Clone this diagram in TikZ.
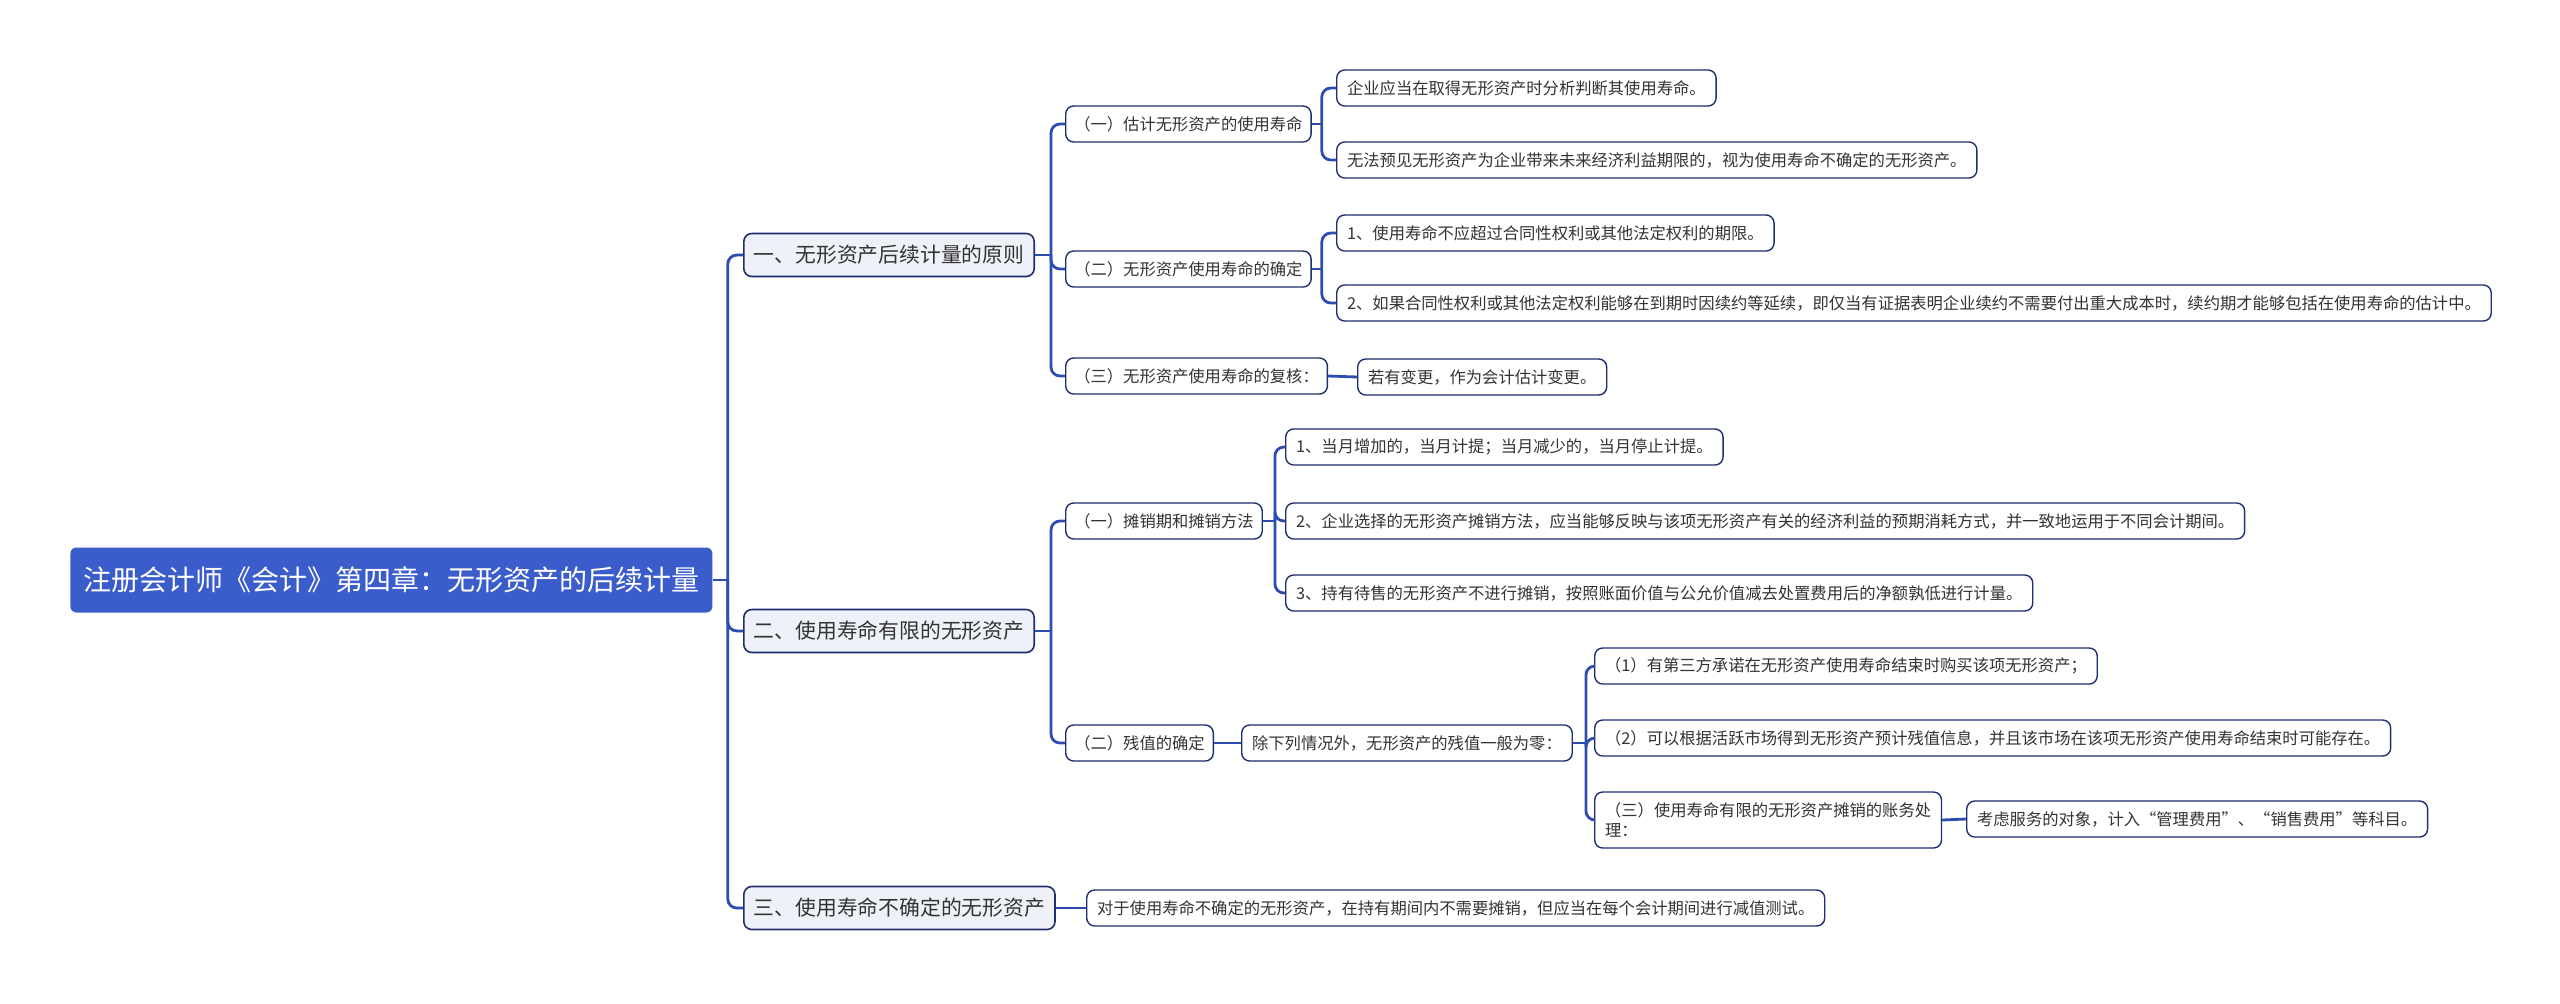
\documentclass[tikz,border=0pt]{standalone}
\usepackage{fontspec}
\setmainfont{Noto Sans CJK SC}
\usetikzlibrary{positioning}

\definecolor{rootblue}{HTML}{3B5CCB}
\definecolor{linkblue}{HTML}{2E4DB0}
\definecolor{boxline}{HTML}{1F2E6E}
\definecolor{topicfill}{HTML}{EEF1F7}
\definecolor{txtgray}{HTML}{333333}

\tikzset{
  rootbox/.style={fill=rootblue, text=white, rounded corners=3pt, anchor=west,
    minimum height=32.5pt, inner xsep=6.5pt, font=\fontsize{14}{16}\selectfont},
  topicbox/.style={draw=boxline, fill=topicfill, line width=0.8pt, rounded corners=4pt,
    anchor=west, minimum height=21.5pt, inner xsep=5pt, text=txtgray,
    font=\fontsize{10.4}{12}\selectfont},
  subbox/.style={draw=boxline, fill=white, line width=0.7pt, rounded corners=4pt,
    anchor=west, minimum height=18pt, inner xsep=4.3pt, text=txtgray,
    font=\fontsize{8.15}{10}\selectfont},
  leafbox/.style={subbox, inner xsep=5.2pt},
  link/.style={draw=linkblue, line width=1.4pt, rounded corners=4.5pt},
}

\begin{document}
\begin{tikzpicture}[x=0.5pt,y=-0.5pt]
\useasboundingbox (0,0) rectangle (2560,1003);

% root and main topics
\node[rootbox] (root) at (70,580) {注册会计师《会计》第四章：无形资产的后续计量};
\node[topicbox] (t1) at (743,255) {一、无形资产后续计量的原则};
\node[topicbox] (t2) at (743,631) {二、使用寿命有限的无形资产};
\node[topicbox] (t3) at (743,908) {三、使用寿命不确定的无形资产};

% branch one
\node[subbox] (s11) at (1065,124) {（一）估计无形资产的使用寿命};
\node[subbox] (s12) at (1065,269) {（二）无形资产使用寿命的确定};
\node[subbox] (s13) at (1065,376) {（三）无形资产使用寿命的复核：};
\node[leafbox] (l111) at (1336,88) {企业应当在取得无形资产时分析判断其使用寿命。};
\node[leafbox] (l112) at (1336,160) {无法预见无形资产为企业带来未来经济利益期限的，视为使用寿命不确定的无形资产。};
\node[leafbox] (l121) at (1336,233) {1、使用寿命不应超过合同性权利或其他法定权利的期限。};
\node[leafbox] (l122) at (1336,303) {2、如果合同性权利或其他法定权利能够在到期时因续约等延续，即仅当有证据表明企业续约不需要付出重大成本时，续约期才能够包括在使用寿命的估计中。};
\node[leafbox] (l131) at (1357,377) {若有变更，作为会计估计变更。};

% branch two
\node[subbox] (s21) at (1065,521) {（一）摊销期和摊销方法};
\node[subbox] (s22) at (1065,743) {（二）残值的确定};
\node[leafbox] (l211) at (1285,447) {1、当月增加的，当月计提；当月减少的，当月停止计提。};
\node[leafbox] (l212) at (1285,521) {2、企业选择的无形资产摊销方法，应当能够反映与该项无形资产有关的经济利益的预期消耗方式，并一致地运用于不同会计期间。};
\node[leafbox] (l213) at (1285,593) {3、持有待售的无形资产不进行摊销，按照账面价值与公允价值减去处置费用后的净额孰低进行计量。};
\node[leafbox] (l221) at (1241,743) {除下列情况外，无形资产的残值一般为零：};
\node[leafbox] (m1) at (1594,666) {（1）有第三方承诺在无形资产使用寿命结束时购买该项无形资产；};
\node[leafbox] (m2) at (1594,738) {（2）可以根据活跃市场得到无形资产预计残值信息，并且该市场在该项无形资产使用寿命结束时可能存在。};
\node[leafbox, align=left, minimum height=28pt] (m3) at (1594,820) {（三）使用寿命有限的无形资产摊销的账务处\\理：};
\node[leafbox] (m31) at (1966,819) {考虑服务的对象，计入“管理费用”、“销售费用”等科目。};

% branch three
\node[leafbox] (l31) at (1086,908) {对于使用寿命不确定的无形资产，在持有期间内不需要摊销，但应当在每个会计期间进行减值测试。};

% connectors
\draw[link] (root.east) -- ++(7.5pt,0) coordinate (jr);
\foreach \c in {t1,t2,t3} \draw[link] (jr) |- (\c.west);

\draw[link] (t1.east) -- ++(8pt,0) coordinate (j1);
\foreach \c in {s11,s12,s13} \draw[link] (j1) |- (\c.west);
\draw[link] (s11.east) -- ++(5pt,0) coordinate (j11);
\foreach \c in {l111,l112} \draw[link] (j11) |- (\c.west);
\draw[link] (s12.east) -- ++(5pt,0) coordinate (j12);
\foreach \c in {l121,l122} \draw[link] (j12) |- (\c.west);
\draw[link] (s13.east) -- (l131.west);

\draw[link] (t2.east) -- ++(8pt,0) coordinate (j2);
\foreach \c in {s21,s22} \draw[link] (j2) |- (\c.west);
\draw[link] (s21.east) -- ++(6pt,0) coordinate (j21);
\foreach \c in {l211,l212,l213} \draw[link] (j21) |- (\c.west);
\draw[link] (s22.east) -- (l221.west);
\draw[link] (l221.east) -- ++(6.5pt,0) coordinate (j22);
\foreach \c in {m1,m2,m3} \draw[link] (j22) |- (\c.west);
\draw[link] (m3.east) -- (m31.west);

\draw[link] (t3.east) -- (l31.west);
\end{tikzpicture}
\end{document}
